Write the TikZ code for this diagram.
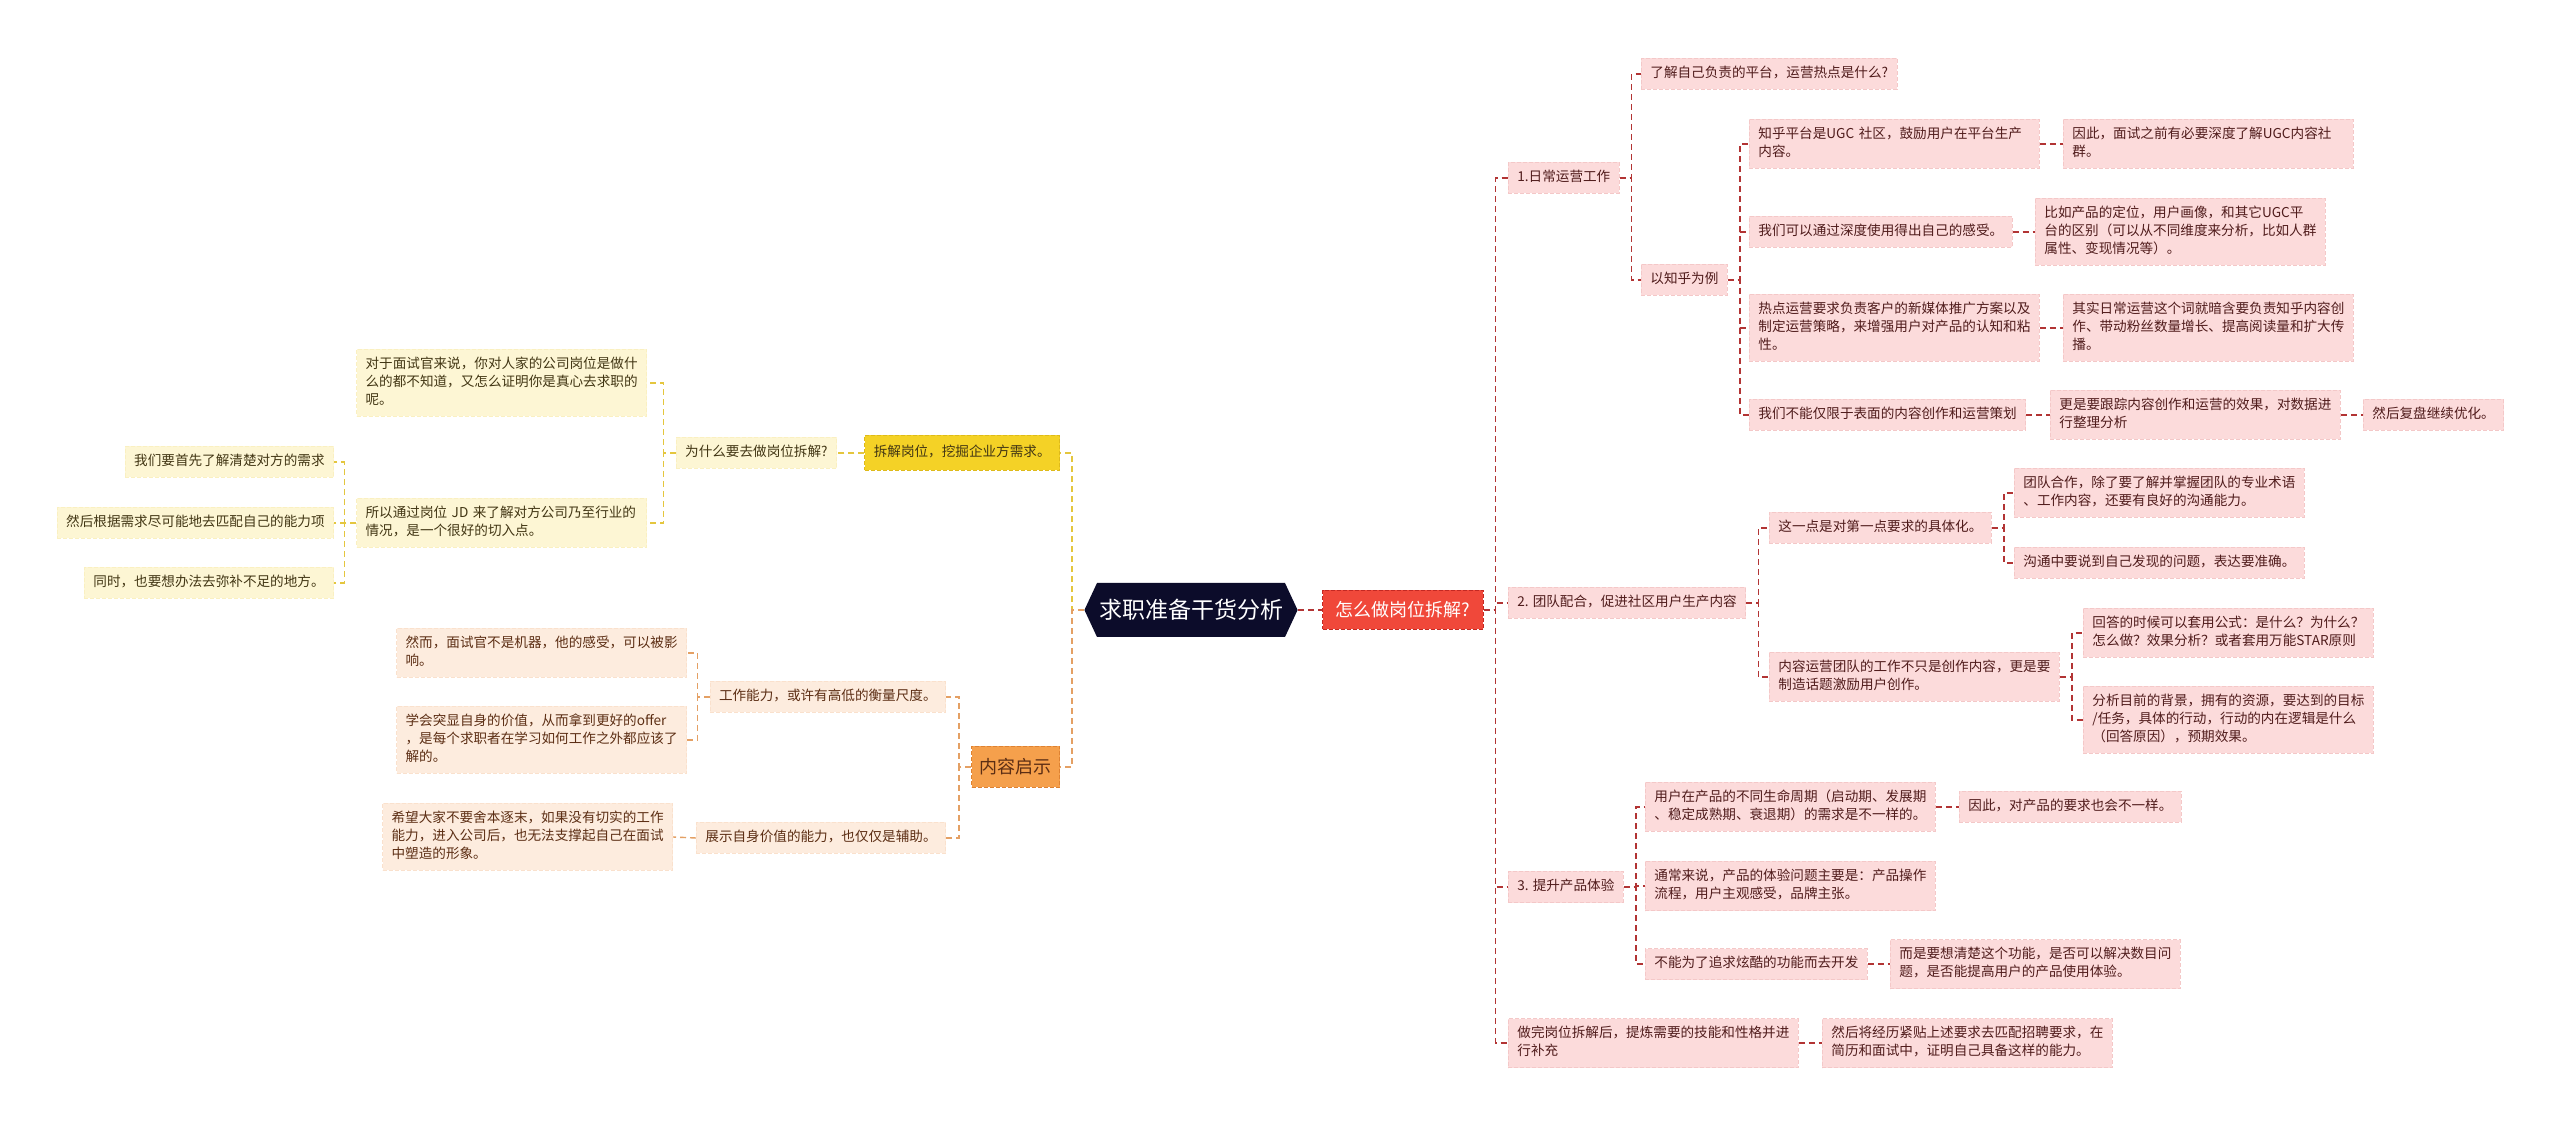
\documentclass[tikz,border=0pt]{standalone}
\usepackage{fontspec}
\setmainfont{Noto Sans CJK SC}
\usetikzlibrary{shapes.symbols}
\definecolor{rootNavy}{RGB}{12,12,42}
\definecolor{howRed}{RGB}{240,72,58}
\definecolor{howEdge}{RGB}{196,40,34}
\definecolor{pinkFill}{RGB}{252,219,219}
\definecolor{pinkEdge}{RGB}{244,200,200}
\definecolor{pinkText}{RGB}{80,28,28}
\definecolor{pinkLine}{RGB}{178,52,52}
\definecolor{yelStrong}{RGB}{244,210,38}
\definecolor{yelEdge}{RGB}{222,186,26}
\definecolor{yelFill}{RGB}{253,246,212}
\definecolor{yelLine}{RGB}{228,198,62}
\definecolor{yelText}{RGB}{66,54,20}
\definecolor{orgStrong}{RGB}{245,160,76}
\definecolor{orgEdge}{RGB}{222,130,50}
\definecolor{orgFill}{RGB}{253,236,222}
\definecolor{orgLine}{RGB}{228,160,100}
\definecolor{orgText}{RGB}{92,46,20}
\tikzset{
    px grid/.style={x=0.5pt, y=-0.5pt},
    topic/.style={font=\fontsize{6.8}{9}\selectfont, inner xsep=4.5pt, inner ysep=3.25pt,
        execute at begin node=\strut, execute at end node=\strut,
        draw, dash pattern=on 2pt off 1pt, line width=0.4pt},
    wrapbox/.style={text width=136pt, align=left},
    pinkbox/.style={topic, fill=pinkFill, draw=pinkEdge, text=pinkText},
    yelbox/.style={topic, fill=yelFill, draw=yelFill!90!yelEdge, text=yelText},
    orgbox/.style={topic, fill=orgFill, draw=orgFill!90!orgEdge, text=orgText},
    rline/.style={draw=pinkLine, dash pattern=on 3pt off 2pt, line width=0.7pt},
    yline/.style={draw=yelLine, dash pattern=on 3pt off 2pt, line width=0.7pt},
    oline/.style={draw=orgLine, dash pattern=on 3pt off 2pt, line width=0.7pt},
    rootbox/.style={shape=signal, signal to=east and west, signal pointer angle=130,
        fill=rootNavy, text=white, font=\fontsize{11.5}{13}\selectfont,
        minimum height=27pt, inner xsep=1pt, inner ysep=0pt},
    howbox/.style={fill=howRed, draw=howEdge, dash pattern=on 2pt off 1pt, line width=0.5pt,
        text=white, font=\fontsize{9}{11}\selectfont, minimum height=19.5pt, inner xsep=6.5pt},
    digbox/.style={topic, fill=yelStrong, draw=yelEdge, text=yelText, minimum height=17.5pt},
    insightbox/.style={fill=orgStrong, draw=orgEdge, dash pattern=on 2pt off 1pt, line width=0.5pt,
        text=orgText, font=\fontsize{9}{11}\selectfont, minimum height=20.5pt, inner xsep=4pt}
}

\begin{document}
\begin{tikzpicture}[px grid]

    % Canvas (reference pixels, y downwards)
    \fill[white] (0,0) rectangle (2560,1127);
    \useasboundingbox (0,0) rectangle (2560,1127);
    \def\gap{12}   % stub from a parent to its bus

    % 1. Centre
    \node[rootbox] (root) at (1191,610) {求职准备干货分析};
    \node[howbox, anchor=west] (how) at (1322,610) {怎么做岗位拆解?};
    \draw[rline] (root.east) -- (how.west);

    % 2. Right side, first level
    \node[pinkbox, anchor=west] (daily) at (1508,178) {1.日常运营工作};
    \node[pinkbox, anchor=west] (team) at (1508,603) {2. 团队配合，促进社区用户生产内容};
    \node[pinkbox, anchor=west] (prod) at (1508,887) {3. 提升产品体验};
    \node[pinkbox, wrapbox, anchor=west] (finish) at (1508,1043) {做完岗位拆解后，提炼需要的技能和性格并进\\行补充};
    \node[pinkbox, wrapbox, anchor=west] (finishB) at (1822,1043) {然后将经历紧贴上述要求去匹配招聘要求，在\\简历和面试中，证明自己具备这样的能力。};
    \foreach \c in {daily, team, prod, finish}
        \draw[rline] (how.east) -- ++(\gap,0) |- (\c.west);
    \draw[rline] (finish.east) -- (finishB.west);

    % 2a. 日常运营工作
    \node[pinkbox, anchor=west] (hot) at (1641,74) {了解自己负责的平台，运营热点是什么?};
    \node[pinkbox, anchor=west] (zhihu) at (1641,280) {以知乎为例};
    \foreach \c in {hot, zhihu}
        \draw[rline] (daily.east) -- ++(\gap,0) |- (\c.west);

    \node[pinkbox, wrapbox, anchor=west] (ugc) at (1749,144) {知乎平台是UGC 社区，鼓励用户在平台生产\\内容。};
    \node[pinkbox, wrapbox, anchor=west] (ugcB) at (2063,144) {因此，面试之前有必要深度了解UGC内容社\\群。};
    \node[pinkbox, anchor=west] (deep) at (1749,232) {我们可以通过深度使用得出自己的感受。};
    \node[pinkbox, wrapbox, anchor=west] (deepB) at (2035,232) {比如产品的定位，用户画像，和其它UGC平\\台的区别（可以从不同维度来分析，比如人群\\属性、变现情况等）。};
    \node[pinkbox, wrapbox, anchor=west] (hotop) at (1749,328) {热点运营要求负责客户的新媒体推广方案以及\\制定运营策略，来增强用户对产品的认知和粘\\性。};
    \node[pinkbox, wrapbox, anchor=west] (hotopB) at (2063,328) {其实日常运营这个词就暗含要负责知乎内容创\\作、带动粉丝数量增长、提高阅读量和扩大传\\播。};
    \node[pinkbox, anchor=west] (surf) at (1749,415) {我们不能仅限于表面的内容创作和运营策划};
    \node[pinkbox, wrapbox, anchor=west] (surfB) at (2050,415) {更是要跟踪内容创作和运营的效果，对数据进\\行整理分析};
    \node[pinkbox, anchor=west] (surfC) at (2363,415) {然后复盘继续优化。};
    \foreach \c in {ugc, deep, hotop, surf}
        \draw[rline] (zhihu.east) -- ++(\gap,0) |- (\c.west);
    \draw[rline] (ugc.east) -- (ugcB.west);
    \draw[rline] (deep.east) -- (deepB.west);
    \draw[rline] (hotop.east) -- (hotopB.west);
    \draw[rline] (surf.east) -- (surfB.west);
    \draw[rline] (surfB.east) -- (surfC.west);

    % 2b. 团队配合
    \node[pinkbox, anchor=west] (spec) at (1769,528) {这一点是对第一点要求的具体化。};
    \node[pinkbox, wrapbox, anchor=west] (ops) at (1769,677) {内容运营团队的工作不只是创作内容，更是要\\制造话题激励用户创作。};
    \foreach \c in {spec, ops}
        \draw[rline] (team.east) -- ++(\gap,0) |- (\c.west);

    \node[pinkbox, wrapbox, anchor=west] (coop) at (2014,493) {团队合作，除了要了解并掌握团队的专业术语\\、工作内容，还要有良好的沟通能力。};
    \node[pinkbox, anchor=west] (talk) at (2014,563) {沟通中要说到自己发现的问题，表达要准确。};
    \foreach \c in {coop, talk}
        \draw[rline] (spec.east) -- ++(\gap,0) |- (\c.west);

    \node[pinkbox, wrapbox, anchor=west] (star) at (2083,633) {回答的时候可以套用公式：是什么？为什么？\\怎么做？效果分析？或者套用万能STAR原则};
    \node[pinkbox, wrapbox, anchor=west] (bg) at (2083,720) {分析目前的背景，拥有的资源，要达到的目标\\/任务，具体的行动，行动的内在逻辑是什么\\（回答原因），预期效果。};
    \foreach \c in {star, bg}
        \draw[rline] (ops.east) -- ++(\gap,0) |- (\c.west);

    % 2c. 提升产品体验
    \node[pinkbox, wrapbox, anchor=west] (life) at (1645,807) {用户在产品的不同生命周期（启动期、发展期\\、稳定成熟期、衰退期）的需求是不一样的。};
    \node[pinkbox, anchor=west] (lifeB) at (1959,807) {因此，对产品的要求也会不一样。};
    \node[pinkbox, wrapbox, anchor=west] (usual) at (1645,886) {通常来说，产品的体验问题主要是：产品操作\\流程，用户主观感受，品牌主张。};
    \node[pinkbox, anchor=west] (cool) at (1645,964) {不能为了追求炫酷的功能而去开发};
    \node[pinkbox, wrapbox, anchor=west] (coolB) at (1890,964) {而是要想清楚这个功能，是否可以解决数目问\\题，是否能提高用户的产品使用体验。};
    \foreach \c in {life, usual, cool}
        \draw[rline] (prod.east) -- ++(\gap,0) |- (\c.west);
    \draw[rline] (life.east) -- (lifeB.west);
    \draw[rline] (cool.east) -- (coolB.west);

    % 3. Left side, yellow branch
    \node[digbox, anchor=east] (dig) at (1060,453) {拆解岗位，挖掘企业方需求。};
    \node[yelbox, anchor=east] (why) at (837,453) {为什么要去做岗位拆解?};
    \draw[yline] (root.west) -- ++(-\gap,0) |- (dig.east);
    \draw[yline] (dig.west) -- (why.east);

    \node[yelbox, wrapbox, anchor=east] (face) at (647,383) {对于面试官来说，你对人家的公司岗位是做什\\么的都不知道，又怎么证明你是真心去求职的\\呢。};
    \node[yelbox, wrapbox, anchor=east] (jd) at (647,523) {所以通过岗位 JD 来了解对方公司乃至行业的\\情况，是一个很好的切入点。};
    \foreach \c in {face, jd}
        \draw[yline] (why.west) -- ++(-\gap,0) |- (\c.east);

    \node[yelbox, anchor=east] (need) at (334,462) {我们要首先了解清楚对方的需求};
    \node[yelbox, anchor=east] (match) at (334,523) {然后根据需求尽可能地去匹配自己的能力项};
    \node[yelbox, anchor=east] (fill) at (334,583) {同时，也要想办法去弥补不足的地方。};
    \foreach \c in {need, match, fill}
        \draw[yline] (jd.west) -- ++(-\gap,0) |- (\c.east);

    % 4. Left side, orange branch
    \node[insightbox, anchor=east] (insight) at (1060,767) {内容启示};
    \draw[oline] (root.west) -- ++(-\gap,0) |- (insight.east);

    \node[orgbox, anchor=east] (ability) at (946,697) {工作能力，或许有高低的衡量尺度。};
    \node[orgbox, anchor=east] (show) at (946,838) {展示自身价值的能力，也仅仅是辅助。};
    \foreach \c in {ability, show}
        \draw[oline] (insight.west) -- ++(-\gap,0) |- (\c.east);

    \node[orgbox, wrapbox, anchor=east] (machine) at (687,653) {然而，面试官不是机器，他的感受，可以被影\\响。};
    \node[orgbox, wrapbox, anchor=east] (value) at (687,740) {学会突显自身的价值，从而拿到更好的offer\\，是每个求职者在学习如何工作之外都应该了\\解的。};
    \foreach \c in {machine, value}
        \draw[oline] (ability.west) -- ++(-\gap,0) |- (\c.east);

    \node[orgbox, wrapbox, anchor=east] (hope) at (673,837) {希望大家不要舍本逐末，如果没有切实的工作\\能力，进入公司后，也无法支撑起自己在面试\\中塑造的形象。};
    \draw[oline] (show.west) -- (hope.east);

\end{tikzpicture}
\end{document}
